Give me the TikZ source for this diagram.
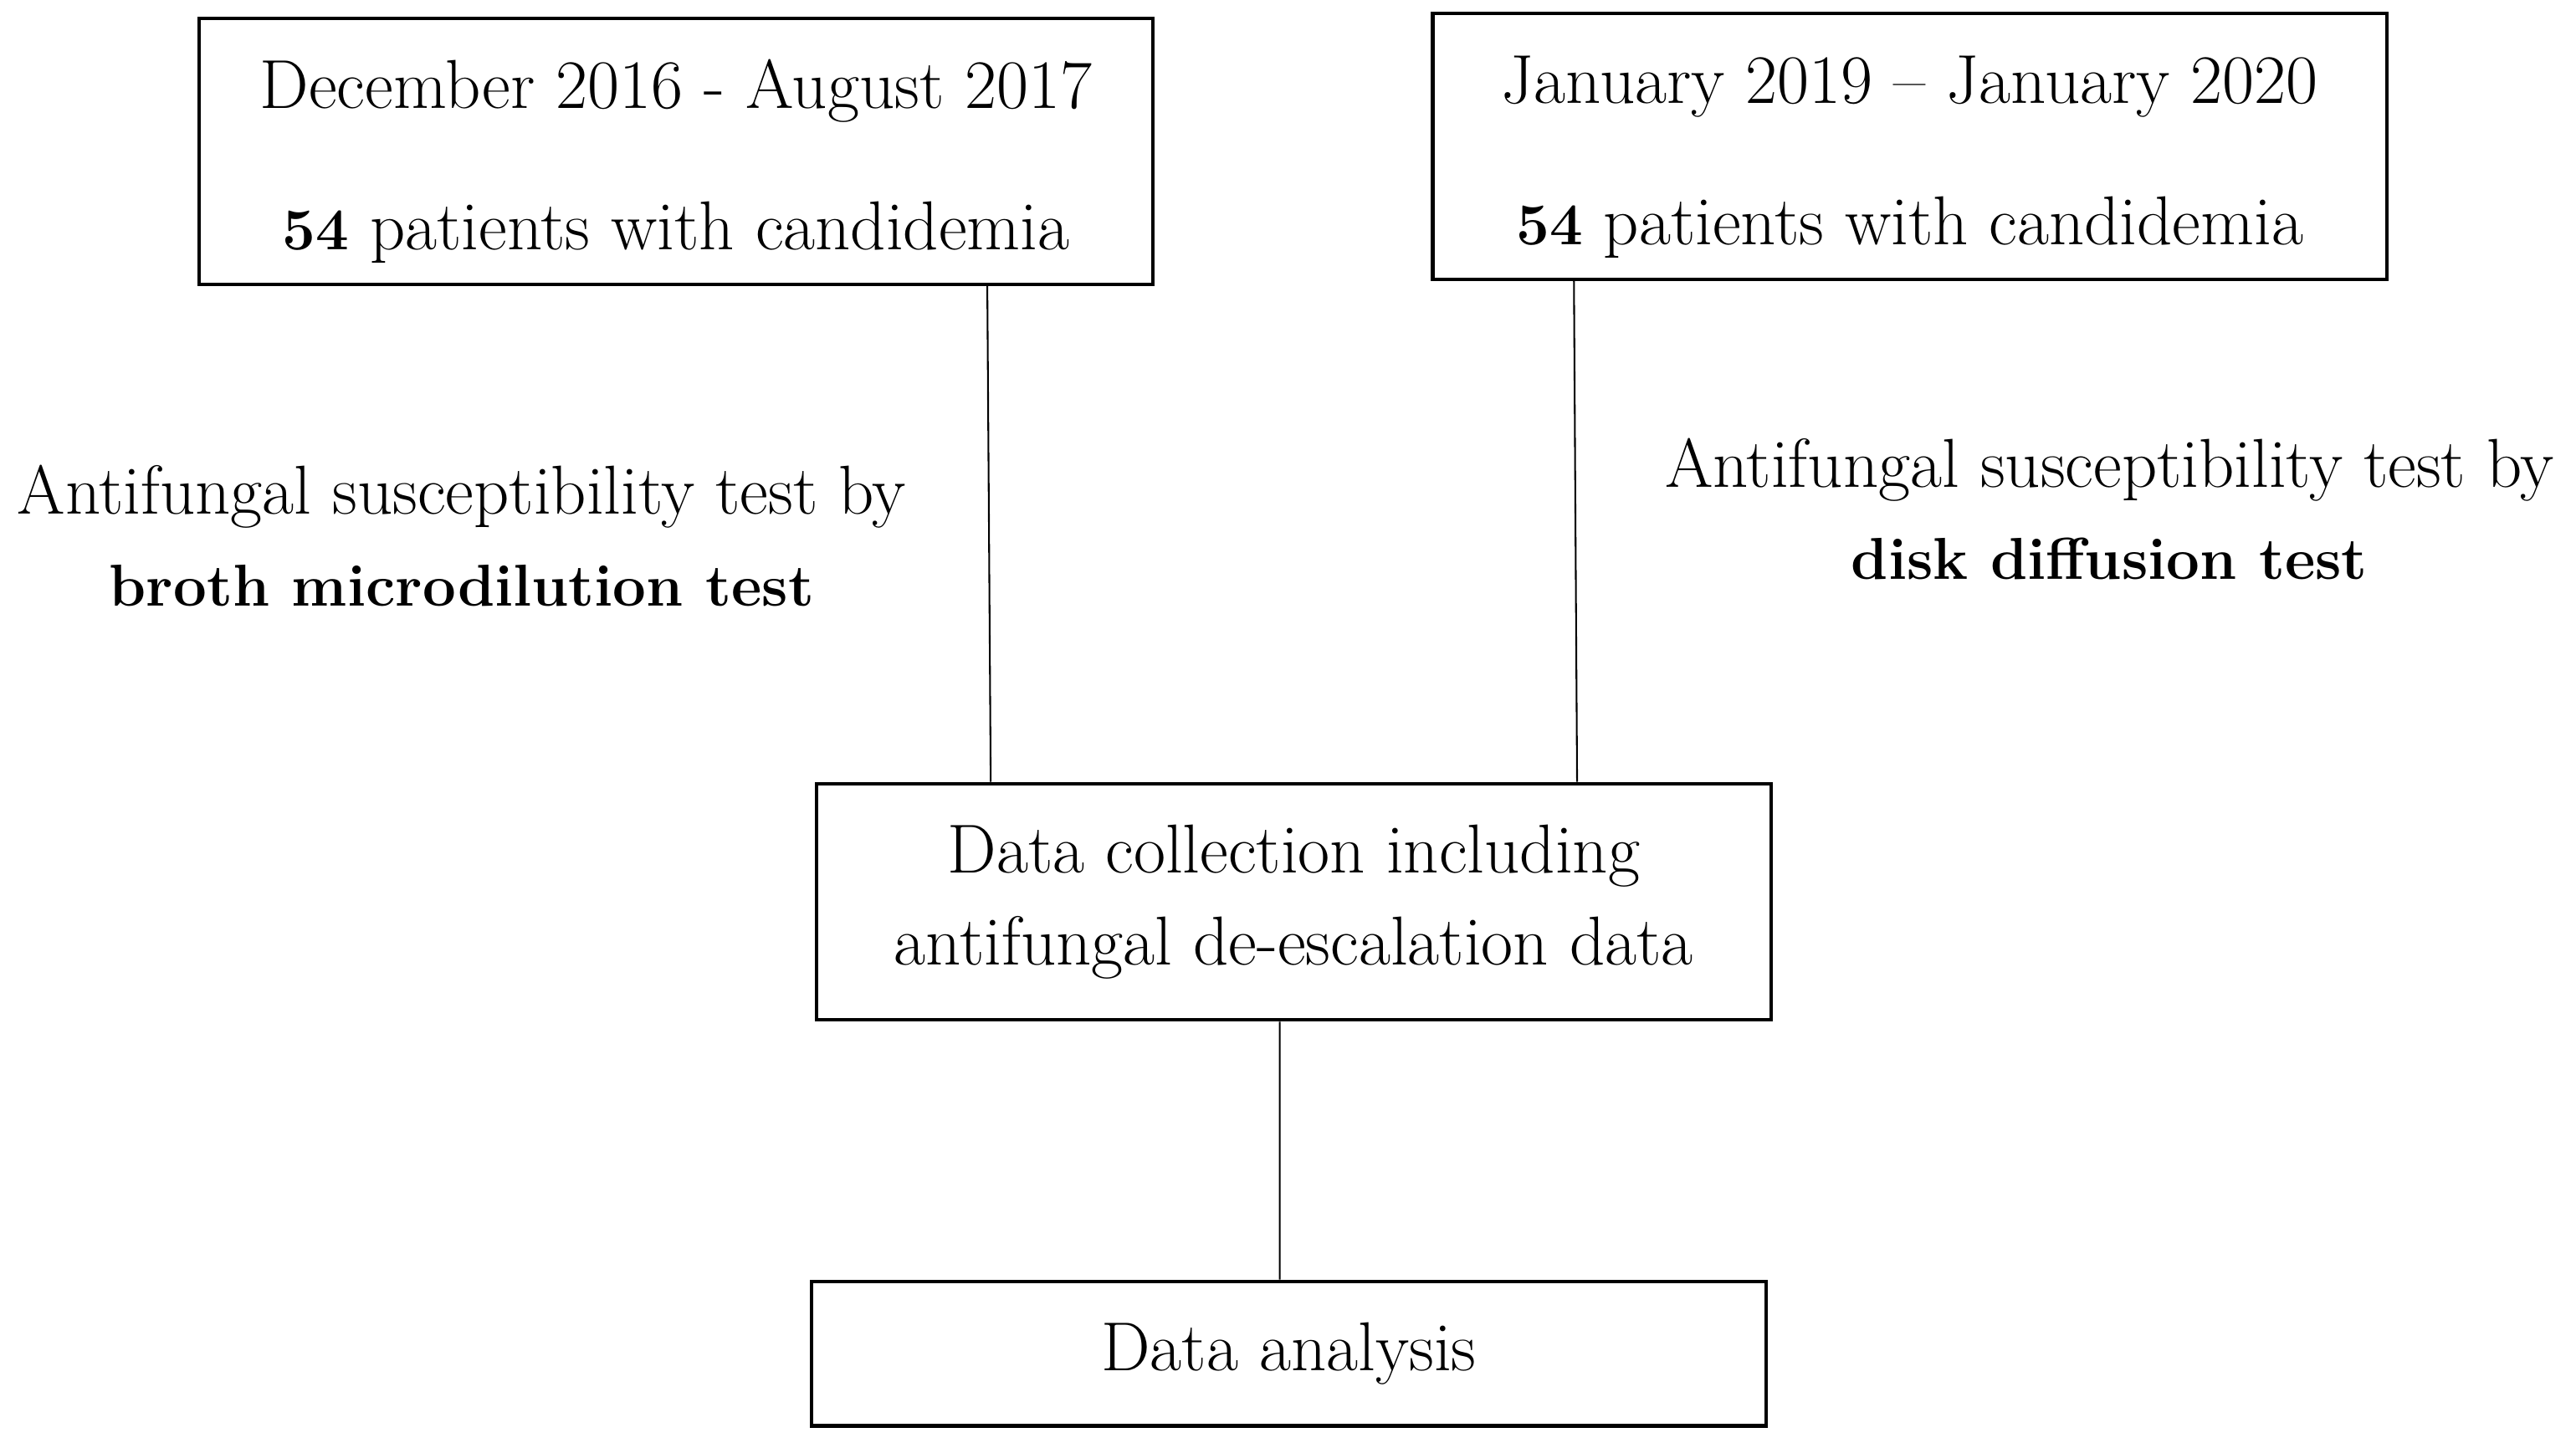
\documentclass[tikz,border=0pt]{standalone}
\usepackage{tikz}
\usetikzlibrary{positioning}
\newcommand{\bnum}[1]{{\fontsize{20.5}{32}\selectfont\textbf{#1}}}

\begin{document}
\begin{tikzpicture}[x=0.02cm,y=-0.02cm]
\tikzstyle{every node}+=[inner sep=0pt,font=\fontsize{24}{32}\selectfont]
\tikzstyle{box}=[draw=black,line width=1.2pt,minimum width=11.62cm,align=center]
\tikzstyle{link}=[black,line width=0.6pt]
\useasboundingbox (0,0) rectangle (1568,878);
\node [box,minimum height=3.24cm] (dec) at (411.5,92) {\rule{0pt}{24pt}December 2016 - August 2017\\[17pt]\bnum{54} patients with candidemia};
\node [box,minimum height=3.24cm] (jan) at (1162.5,89) {\rule{0pt}{24pt}January 2019 -- January 2020\\[17pt]\bnum{54} patients with candidemia};
\node [align=center] (broth) at (281,326) {Antifungal susceptibility test by\\\bnum{broth microdilution test}};
\node [align=center] (disk) at (1284,310) {Antifungal susceptibility test by\\\bnum{disk diffusion test}};
\node [box,minimum height=2.88cm] (collect) at (787.5,549) {Data collection including\\antifungal de-escalation data};
\node [box,minimum height=1.76cm] (analysis) at (784.5,824) {Data analysis};
\draw [link] ([xshift=3.79cm]dec.south) -- ([xshift=-3.69cm]collect.north);
\draw [link] ([xshift=-4.09cm]jan.south) -- ([xshift=3.45cm]collect.north);
\draw [link] ([xshift=-0.17cm]collect.south) -- ([xshift=-0.11cm]analysis.north);
\end{tikzpicture}
\end{document}
